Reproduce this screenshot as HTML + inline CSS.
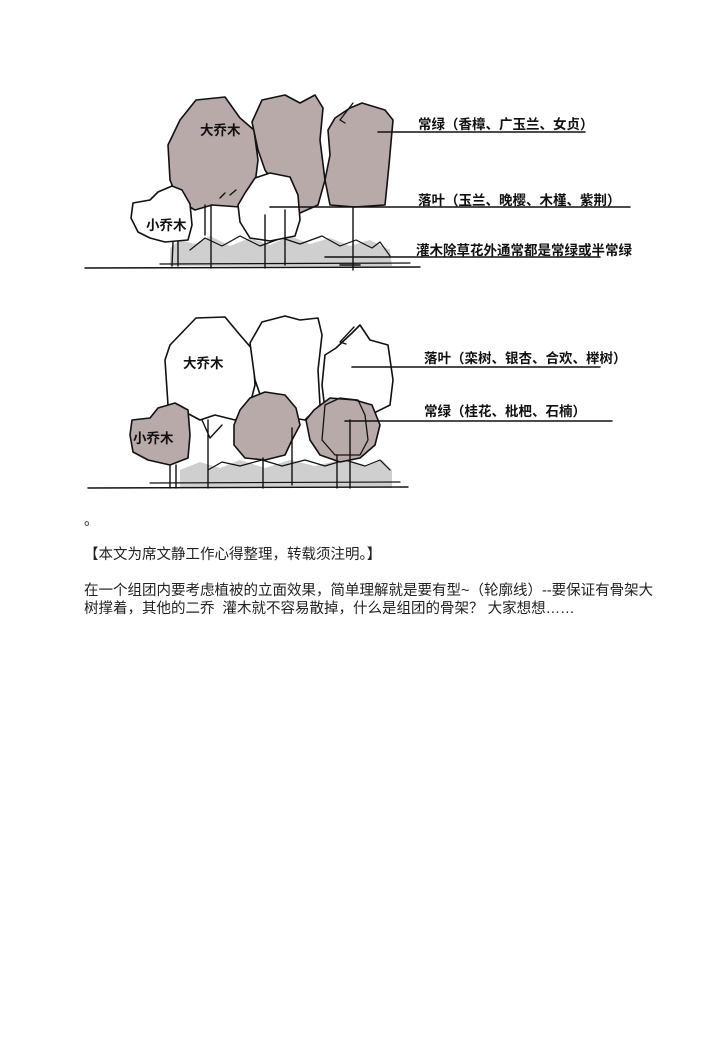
<!DOCTYPE html>
<html><head><meta charset="utf-8"><style>
html,body{margin:0;padding:0;background:#fff;width:721px;height:1050px;overflow:hidden;position:relative}
svg{position:absolute;left:0;top:0}
.t{position:absolute;font-family:"Liberation Sans","Noto Sans CJK SC",sans-serif;font-size:14.5px;color:#222;white-space:nowrap;line-height:18px}
svg text{font-weight:bold}
</style></head><body>
<svg width="721" height="1050" viewBox="0 0 721 1050">
<g stroke="#111" stroke-width="1.6" fill="none" stroke-linejoin="round" stroke-linecap="round" font-family="Liberation Sans,Noto Sans CJK SC,sans-serif">
<path d="M170,248 L180,240 L195,244 L210,236 L230,246 L250,238 L270,245 L290,236 L310,244 L330,238 L350,246 L370,240 L390,250 L392,266 L170,266 Z" fill="#cfcfcf" stroke="none"/>
<path d="M190,250 L205,238 L222,246 L240,236 L260,246 L282,238 L300,244 L322,236 L340,246 L356,240 L372,248 L380,242 L390,256" stroke-width="1.2"/>
<path d="M196,100 L225,97 L240,118 L254,130 L258,160 L253,200 L240,207 L212,205 L195,210 L178,200 L170,180 L168,145 L180,120 Z" fill="#b9aaaa"/>
<path d="M252,122 L262,100 L285,95 L300,103 L315,95 L323,108 L320,140 L325,180 L318,205 L300,213 L285,205 L275,185 L265,170 L258,150 Z" fill="#b9aaaa"/>
<path d="M335,118 L350,108 L362,103 L385,110 L393,120 L389,165 L385,205 L355,207 L330,205 L325,180 L330,155 L328,130 Z" fill="#b9aaaa"/>
<path d="M353,103 L340,120 L345,123" stroke-width="1.3"/>
<path d="M133,203 L150,200 L158,192 L172,186 L182,190 L190,204 L192,225 L188,240 L165,242 L150,238 L138,232 L131,218 Z" fill="#fff"/>
<path d="M245,193 L255,178 L270,173 L290,177 L298,195 L300,220 L295,236 L270,241 L250,238 L240,222 L238,205 Z" fill="#fff"/>
<path d="M173,242 L172,266 M178,242 L178,266 M211,205 L211,268 M205,205 L205,235 M265,215 L265,268 M285,210 L285,265 M353,207 L353,270 M230,195 L236,190 M220,198 L225,193" stroke-width="1.4"/>
<path d="M85,268 L420,267" stroke-width="1.4"/>
<path d="M160,264 L410,263" stroke-width="1.2"/>
<path d="M378,132 L585,132 M270,207 L630,207 M325,257 L600,257 M340,265 L360,265"/>
<text x="418" y="129" font-size="13.5" fill="#111" stroke="none">常绿（香樟、广玉兰、女贞）</text>
<text x="418" y="205" font-size="13.5" fill="#111" stroke="none">落叶（玉兰、晚樱、木槿、紫荆）</text>
<text x="416" y="255" font-size="13.5" fill="#111" stroke="none">灌木除草花外通常都是常绿或半常绿</text>
<text x="200" y="135" font-size="13.5" fill="#111" stroke="none">大乔木</text>
<text x="146" y="230" font-size="13.5" fill="#111" stroke="none">小乔木</text>

<path d="M180,470 L200,462 L220,468 L240,460 L265,468 L290,460 L315,466 L340,460 L365,466 L382,460 L392,470 L392,488 L180,488 Z" fill="#cfcfcf" stroke="none"/>
<path d="M208,470 L222,462 L240,466 L262,460 L282,466 L305,460 L325,466 L345,460 L365,466 L380,460 L390,470" stroke-width="1.2"/>
<path d="M196,318 L225,317 L240,335 L253,350 L255,385 L248,412 L235,420 L215,415 L200,420 L185,412 L168,405 L165,360 L170,345 Z" fill="#fff"/>
<path d="M250,343 L262,322 L285,316 L300,320 L318,318 L322,335 L318,370 L320,405 L305,420 L275,415 L262,400 L255,380 Z" fill="#fff"/>
<path d="M336,348 L352,333 L360,325 L370,340 L388,345 L393,380 L390,405 L370,415 L345,415 L325,410 L322,385 L325,355 Z" fill="#fff"/>
<path d="M354,327 L340,342 L346,344" stroke-width="1.3"/>
<path d="M132,420 L150,418 L158,408 L175,403 L188,410 L190,435 L188,458 L170,465 L148,460 L133,452 L130,435 Z" fill="#b9aaaa"/>
<path d="M250,398 L265,392 L285,395 L296,408 L300,425 L292,440 L285,455 L265,460 L245,458 L234,445 L234,425 L240,410 Z" fill="#b9aaaa"/>
<path d="M314,410 L330,398 L355,400 L372,405 L380,425 L375,445 L360,458 L340,462 L320,455 L310,440 L306,420 Z" fill="#b9aaaa"/>
<path d="M325,405 L340,398 L358,400 L365,415 L368,440 L360,455 L335,455 L322,440 Z" stroke-width="1.3"/>
<path d="M170,465 L170,488 M176,465 L176,488 M208,420 L208,488 M202,420 L210,438 L222,425 M263,458 L263,488 M292,428 L292,485 M350,420 L350,488 M337,455 L337,488" stroke-width="1.4"/>
<path d="M88,488 L408,487" stroke-width="1.4"/>
<path d="M150,483 L400,482" stroke-width="1.2"/>
<path d="M352,367 L600,367 M345,421 L612,421"/>
<text x="424" y="363" font-size="13.5" fill="#111" stroke="none">落叶（栾树、银杏、合欢、榉树）</text>
<text x="424" y="416" font-size="13.5" fill="#111" stroke="none">常绿（桂花、枇杷、石楠）</text>
<text x="183" y="368" font-size="13.5" fill="#111" stroke="none">大乔木</text>
<text x="133" y="443" font-size="13.5" fill="#111" stroke="none">小乔木</text>
</g>
</svg>
<div class="t" style="left:84px;top:512px">。</div>
<div class="t" style="left:84px;top:546px">【本文为席文静工作心得整理，转载须注明。】</div>
<div class="t" style="left:84px;top:582px">在一个组团内要考虑植被的立面效果，简单理解就是要有型~（轮廓线）--要保证有骨架大</div>
<div class="t" style="left:84px;top:600px">树撑着，其他的二乔&nbsp; 灌木就不容易散掉，什么是组团的骨架？ 大家想想……</div>
</body></html>
